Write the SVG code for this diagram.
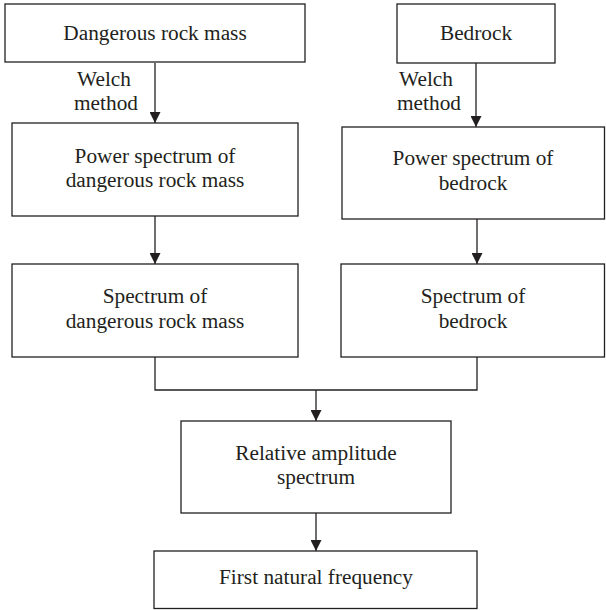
<svg xmlns="http://www.w3.org/2000/svg" width="606" height="610" viewBox="0 0 606 610">
<style>
.box{fill:#fff;stroke:#231f20;stroke-width:1.3}
.t{font-family:"Liberation Serif","Times New Roman",serif;font-size:21.3px;fill:#231f20;text-anchor:middle}
.l{font-family:"Liberation Serif","Times New Roman",serif;font-size:21.3px;fill:#231f20;text-anchor:middle}
.c{fill:none;stroke:#231f20;stroke-width:1.3}
</style>
<defs>
<marker id="ah" viewBox="0 0 10 10" refX="10" refY="5" markerWidth="11" markerHeight="11" markerUnits="userSpaceOnUse" orient="auto">
<path d="M0,0 L10,5 L0,10 Z" fill="#231f20"/>
</marker>
</defs>
<rect width="606" height="610" fill="#fff"/>
<g id="connectors">
<line class="c" x1="155" y1="63" x2="155" y2="123" marker-end="url(#ah)"/>
<line class="c" x1="476" y1="63" x2="476" y2="127" marker-end="url(#ah)"/>
<line class="c" x1="155" y1="216" x2="155" y2="264" marker-end="url(#ah)"/>
<line class="c" x1="477" y1="219" x2="477" y2="264" marker-end="url(#ah)"/>
<polyline class="c" points="155,357 155,390 477,390 477,357"/>
<line class="c" x1="316" y1="390" x2="316" y2="421" marker-end="url(#ah)"/>
<line class="c" x1="316" y1="513" x2="316" y2="551" marker-end="url(#ah)"/>
<text class="l" x="104" y="86">Welch</text>
<text class="l" x="106" y="110">method</text>
<text class="l" x="426" y="86">Welch</text>
<text class="l" x="429" y="110">method</text>
</g>
<g id="n1"><rect class="box" x="5" y="4" width="300" height="58"/><text class="t" x="155" y="40">Dangerous rock mass</text></g>
<g id="n2"><rect class="box" x="397" y="4" width="158" height="59"/><text class="t" x="476" y="40">Bedrock</text></g>
<g id="n3"><rect class="box" x="12" y="123" width="286" height="93"/><text class="t" x="155" y="163">Power spectrum of</text><text class="t" x="155" y="187">dangerous rock mass</text></g>
<g id="n4"><rect class="box" x="342" y="127" width="262.5" height="92"/><text class="t" x="473" y="165">Power spectrum of</text><text class="t" x="473" y="190">bedrock</text></g>
<g id="n5"><rect class="box" x="12" y="264" width="286" height="93"/><text class="t" x="155" y="303">Spectrum of</text><text class="t" x="155" y="328">dangerous rock mass</text></g>
<g id="n6"><rect class="box" x="341" y="264" width="263.5" height="93"/><text class="t" x="473" y="303">Spectrum of</text><text class="t" x="473" y="328">bedrock</text></g>
<g id="n7"><rect class="box" x="181" y="421" width="270" height="92"/><text class="t" x="316" y="460">Relative amplitude</text><text class="t" x="316" y="484">spectrum</text></g>
<g id="n8"><rect class="box" x="154" y="551" width="323" height="57.5"/><text class="t" x="316" y="584">First natural frequency</text></g>
</svg>
